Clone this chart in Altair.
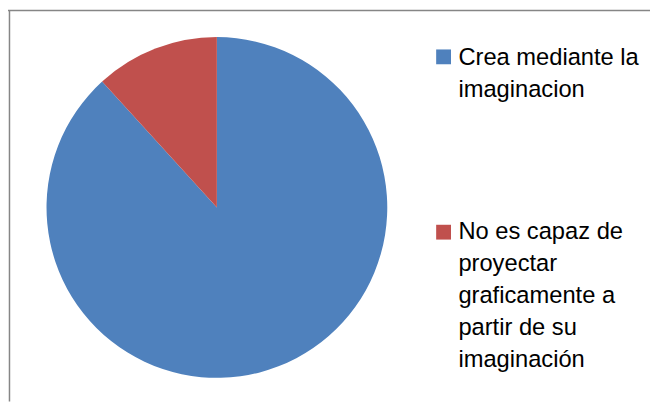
import altair as alt
import pandas as pd

categories = ["Crea mediante la imaginacion",
              "No es capaz de proyectar graficamente a partir de su imaginación"]
values = [15, 2]
legend_lines = ["Crea mediante la\nimaginacion",
                "No es capaz de\nproyectar\ngraficamente a\npartir de su\nimaginación"]
colors = ["#4F81BD", "#C0504D"]

df = pd.DataFrame({"cat": categories, "val": values, "order": [0, 1],
                   "label": legend_lines})

W, H = 650, 396
color_scale = alt.Scale(domain=categories, range=colors)

pie = alt.Chart(df).mark_arc(radius=172.5, stroke=None).encode(
    theta=alt.Theta("val:Q", stack=True),
    order=alt.Order("order:Q"),
    color=alt.Color("cat:N", scale=color_scale, legend=None),
    x=alt.value(211.5), y=alt.value(199.5),
)

layers = [pie]
sq_y = [47, 224.5]
tx_y = [55.5, 231.5]
for i in range(2):
    sub = alt.Chart(df).transform_filter(alt.datum.order == i)
    layers.append(sub.mark_square(size=225, opacity=1, shape="square").encode(
        x=alt.value(441), y=alt.value(sq_y[i]),
        color=alt.Color("cat:N", scale=color_scale, legend=None)))
    layers.append(sub.mark_text(align="left", baseline="alphabetic", lineBreak="\n",
                                lineHeight=32.5, font="Liberation Sans", fontSize=24,
                                color="#000000").encode(
        x=alt.value(456), y=alt.value(tx_y[i]), text="label:N"))

border = pd.DataFrame({"k": [0]})
layers.append(alt.Chart(border).mark_rule(color="#868686", strokeWidth=1.5).encode(
    x=alt.value(0), x2=alt.value(W), y=alt.value(0)))
layers.append(alt.Chart(border).mark_rule(color="#868686", strokeWidth=1.5).encode(
    x=alt.value(1.5), y=alt.value(0), y2=alt.value(H)))

chart = alt.layer(*layers).properties(
    width=W, height=H, padding=0,
    autosize=alt.AutoSizeParams(type="none"),
).configure_view(stroke=None)

chart.save("out.html", embed_options={"renderer": "svg", "actions": False})
